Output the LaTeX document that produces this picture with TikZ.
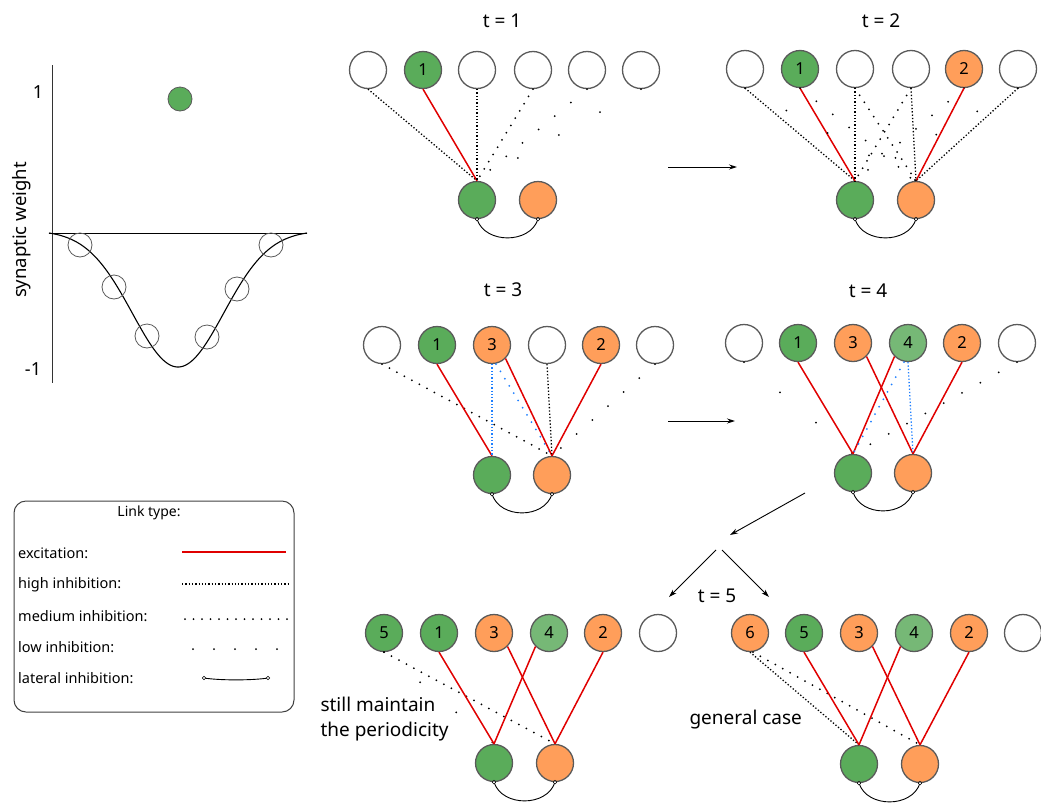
\documentclass[tikz,border=0pt]{standalone}
\usepackage{fontspec}
\setmainfont{Noto Sans}
\usetikzlibrary{arrows.meta}
\definecolor{ngreen}{HTML}{5AAC5A}
\definecolor{lgreen}{HTML}{76B876}
\definecolor{norange}{HTML}{FF9E5A}
\definecolor{nstroke}{HTML}{5A5A5A}
\definecolor{exred}{HTML}{E00000}
\definecolor{inblue}{HTML}{1E7FFF}
\tikzset{
  neu/.style={circle, draw=nstroke, line width=1.3pt, minimum size=37pt, inner sep=0pt, fill=white, font=\fontsize{16.5}{18}\selectfont},
  gn/.style={neu, fill=ngreen},
  orn/.style={neu, fill=norange},
  lg/.style={neu, fill=lgreen},
  exc/.style={draw=exred, line width=1.5pt},
  high/.style={line width=1.3pt, dash pattern=on 1.3pt off 2pt},
  med/.style={line width=2pt, line cap=round, dash pattern=on 0pt off 8.5pt},
  low/.style={line width=2pt, line cap=round, dash pattern=on 0pt off 21pt},
  lowest/.style={line width=2pt, line cap=round, dash pattern=on 0pt off 47pt},
  bhigh/.style={high, draw=inblue},
  bmed/.style={med, draw=inblue},
  lat/.style={line width=0.9pt},
  flow/.style={line width=0.9pt, -{Stealth[length=8pt,width=5pt]}},
  ttl/.style={font=\fontsize{19}{22}\selectfont},
  lbl/.style={font=\fontsize{19}{25}\selectfont, align=left},
  leg/.style={font=\fontsize{14.5}{16}\selectfont, anchor=west, inner sep=0pt},
}
\newcommand\latinh[2]{%
  \draw[lat] (#1.south) .. controls +(8,25) and +(-8,25) .. (#2.south);
  \draw[fill=white, line width=0.6pt] (#1.south) circle (1.8pt) (#2.south) circle (1.8pt);}
\begin{document}
\begin{tikzpicture}[x=1pt, y=-1pt]
\useasboundingbox (0,0) rectangle (1041,809);

% ---------- weight profile ----------
\draw[line width=1pt, draw=black!80] (52,65) -- (52,383);
\draw[line width=0.9pt] (49,233) -- (307,233);
\draw[line width=1.1pt] plot[domain=49:307, samples=120, smooth] (\x,{233+136.5*(exp(-((\x-178)/45.6)^2/2)-0.0183)});
\foreach \p in {(80,245),(114,287),(147,336),(207,337),(237,289),(271,245)}
  \draw[draw=nstroke, line width=0.8pt] \p circle (12pt);
\draw[draw=nstroke, fill=ngreen, line width=0.8pt] (180,99) circle (12pt);
\node[font=\fontsize{18}{20}\selectfont] (one) at (38,92) {1};
\node[font=\fontsize{18}{20}\selectfont] (mone) at (33,369) {-1};
\node[font=\fontsize{18.5}{20}\selectfont, rotate=90] (sw) at (22,230) {synaptic weight};

% ---------- legend ----------
\draw[draw=black!75, line width=1pt, rounded corners=12pt] (14,501) rectangle (294,712);
\node[font=\fontsize{14}{16}\selectfont] (lt) at (149,513) {Link type:};
\node[leg] (l1) at (18,553) {excitation:};
\node[leg] (l2) at (18,585) {high inhibition:};
\node[leg] (l3) at (18,616) {medium inhibition:};
\node[leg] (l4) at (18,647) {low inhibition:};
\node[leg] (l5) at (18,678) {lateral inhibition:};
\draw[exc] (182,552) -- (286,552);
\draw[high] (182,584) -- (290,584);
\draw[med] (185,619) -- (288,619);
\draw[low] (193,649) -- (284,649);
\draw[lat] (204,678) .. controls (220,680.5) and (252,680.5) .. (268,678);
\draw[fill=white, line width=0.6pt] (204,678) circle (1.8pt) (268,678) circle (1.8pt);

% ---------- t = 1 ----------
\node[ttl] (T1) at (502,21) {t = 1};
\node[neu] (a0) at (368,70) {};
\node[gn]  (a1) at (423,70) {1};
\node[neu] (a2) at (477,70) {};
\node[neu] (a3) at (533,70) {};
\node[neu] (a4) at (587,70) {};
\node[neu] (a5) at (641,70) {};
\node[gn]  (ag) at (477,200) {};
\node[orn] (ao) at (538,200) {};
\draw[high] (a0.south) -- (ag.north);
\draw[exc] (a1.south) -- (ag.north);
\draw[high] (a2.south) -- (ag.north);
\draw[med] (a3.south) -- (ag.north);
\draw[low] (a4.south) -- (ag.north);
\draw[lowest] (a5.south) -- (ag.north);
\latinh{ag}{ao}

% ---------- t = 2 ----------
\node[ttl] (T2) at (881,21) {t = 2};
\node[neu] (b0) at (745,69) {};
\node[gn]  (b1) at (800,69) {1};
\node[neu] (b2) at (855,69) {};
\node[neu] (b3) at (911,69) {};
\node[orn] (b4) at (964,69) {2};
\node[neu] (b5) at (1018,69) {};
\node[gn]  (bg) at (855,200) {};
\node[orn] (bo) at (916,200) {};
\draw[high] (b0.south) -- (bg.north);
\draw[exc] (b1.south) -- (bg.north);
\draw[high] (b2.south) -- (bg.north);
\draw[med] (b3.south) -- (bg.north);
\draw[low] (b4.south) -- (bg.north);
\draw[lowest] (b5.south) -- (bg.north);
\draw[high] (b5.south) -- (bo.north);
\draw[exc] (b4.south) -- (bo.north);
\draw[high] (b3.south) -- (bo.north);
\draw[med] (b2.south) -- (bo.north);
\draw[low] (b1.south) -- (bo.north);
\draw[lowest] (b0.south) -- (bo.north);
\latinh{bg}{bo}

% ---------- t = 3 ----------
\node[ttl] (T3) at (503,290) {t = 3};
\node[neu] (c0) at (382,345) {};
\node[gn]  (c1) at (437,345) {1};
\node[orn] (c2) at (492,345) {3};
\node[neu] (c3) at (547,345) {};
\node[orn] (c4) at (601,345) {2};
\node[neu] (c5) at (655,345) {};
\node[gn]  (cg) at (492,475) {};
\node[orn] (co) at (552,475) {};
\draw[med] (c0.south) -- (co.north);
\draw[exc] (c1.south) -- (cg.north);
\draw[bhigh] (c2.south) -- (cg.north);
\draw[bmed] ([xshift=4pt]c2.south) -- (co.north);
\draw[exc] (c2.south east) -- (co.north);
\draw[high] (c3.south) -- (co.north);
\draw[exc] (c4.south) -- (co.north);
\draw[low] (c5.south) -- (co.north);
\latinh{cg}{co}

% ---------- t = 4 ----------
\node[ttl] (T4) at (868,291) {t = 4};
\node[neu] (d0) at (744,343) {};
\node[gn]  (d1) at (798,343) {1};
\node[orn] (d2) at (853,343) {3};
\node[lg]  (d3) at (908,343) {4};
\node[orn] (d4) at (962,343) {2};
\node[neu] (d5) at (1017,343) {};
\node[gn]  (dg) at (853,473) {};
\node[orn] (do) at (913,473) {};
\draw[lowest] (d0.south) -- (dg.north);
\draw[exc] (d1.south) -- (dg.north);
\draw[exc] (d2.south east) -- (do.north);
\draw[exc] (d3.south west) -- (dg.north);
\draw[bmed] ([xshift=-4pt]d3.south) -- (dg.north);
\draw[bhigh] (d3.south) -- (do.north);
\draw[exc] (d4.south) -- (do.north);
\draw[low] (d5.south) -- (dg.north);
\latinh{dg}{do}

% ---------- t = 5 ----------
\node[ttl] (T5) at (717,596) {t = 5};
\node[gn]  (e0) at (384,633) {5};
\node[gn]  (e1) at (439,633) {1};
\node[orn] (e2) at (494,633) {3};
\node[lg]  (e3) at (549,633) {4};
\node[orn] (e4) at (603,633) {2};
\node[neu] (e5) at (658,633) {};
\node[gn]  (eg) at (494,763) {};
\node[orn] (eo) at (555,763) {};
\draw[lowest] (e0.south) -- (eg.north);
\draw[med] (e0.south) -- (eo.north);
\draw[exc] (e1.south) -- (eg.north);
\draw[exc] (e2.south east) -- (eo.north);
\draw[exc] (e3.south west) -- (eg.north);
\draw[exc] (e4.south) -- (eo.north);
\latinh{eg}{eo}
\node[lbl, anchor=west] (still) at (317,719) {still maintain\\the periodicity};

\node[orn] (f0) at (750,633) {6};
\node[gn]  (f1) at (804,633) {5};
\node[orn] (f2) at (859,633) {3};
\node[lg]  (f3) at (914,633) {4};
\node[orn] (f4) at (969,633) {2};
\node[neu] (f5) at (1023,633) {};
\node[gn]  (fg) at (859,764) {};
\node[orn] (fo) at (920,764) {};
\draw[high] (f0.south) -- (fg.north);
\draw[med] ([xshift=3pt]f0.south) -- (fo.north);
\draw[exc] (f1.south) -- (fg.north);
\draw[exc] (f2.south east) -- (fo.north);
\draw[exc] (f3.south west) -- (fg.north);
\draw[exc] (f4.south) -- (fo.north);
\latinh{fg}{fo}
\node[lbl, anchor=west] (gen) at (686,720) {general case};

% ---------- flow arrows ----------
\coordinate (p1s) at (668,167); \coordinate (p1e) at (737,167);
\coordinate (p2s) at (668,421); \coordinate (p2e) at (735,421);
\coordinate (p3s) at (805,493); \coordinate (p3e) at (730,535);
\coordinate (p4s) at (716,550); \coordinate (p4e) at (669,597);
\coordinate (p5s) at (722,550); \coordinate (p5e) at (769,597);
\draw[flow] (p1s) -- (p1e);
\draw[flow] (p2s) -- (p2e);
\draw[flow] (p3s) -- (p3e);
\draw[flow] (p4s) -- (p4e);
\draw[flow] (p5s) -- (p5e);
\end{tikzpicture}
\end{document}
